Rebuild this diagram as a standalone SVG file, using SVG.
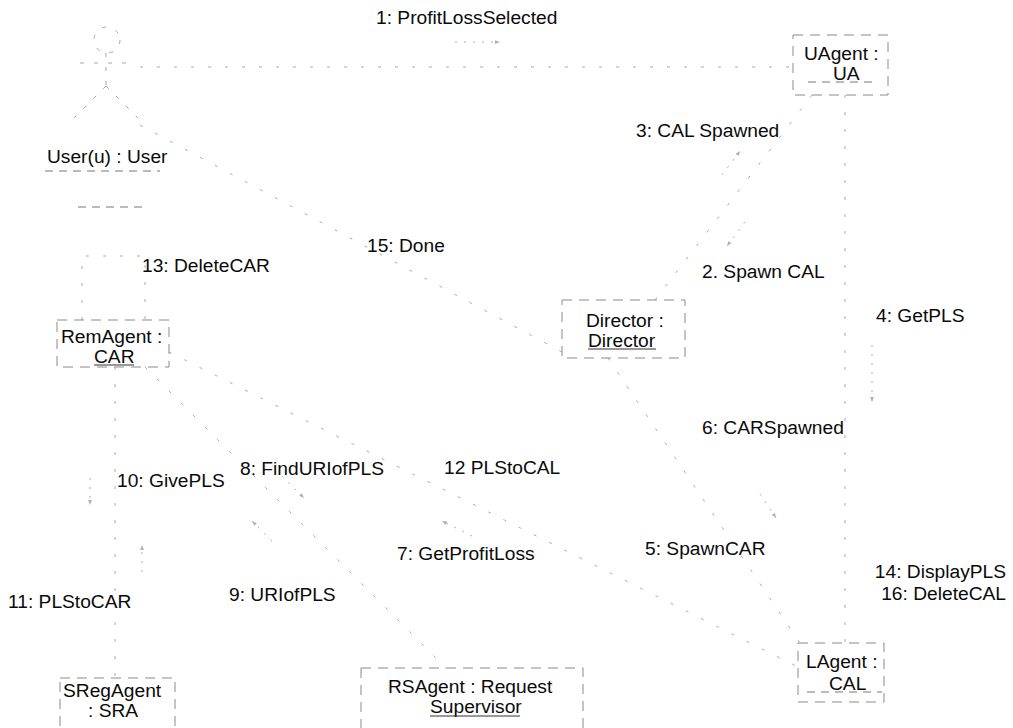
<svg xmlns="http://www.w3.org/2000/svg" width="1013" height="728" viewBox="0 0 1013 728">
  <style>
    text { font-family: "Liberation Sans", Arial, sans-serif; font-size: 19.2px; fill: #0a0a0a; }
    .box { fill: none; stroke: #8a8a8a; stroke-width: 1; stroke-dasharray: 10 7; }
    .link { fill: none; stroke: #ababab; stroke-width: 1; stroke-dasharray: 3 14; }
    .msg { fill: none; stroke: #b0b0b0; stroke-width: 1; stroke-dasharray: 2 7; marker-end: url(#head); }
    .ul { stroke: #333; stroke-width: 1.2; }
    .uld { stroke: #777; stroke-width: 1; stroke-dasharray: 8 6; }
    .actor { fill: none; stroke: #a8a8a8; stroke-width: 1; stroke-dasharray: 4 10; }
  </style>
  <defs>
    <marker id="head" viewBox="0 0 8 6" refX="8" refY="3" markerWidth="5" markerHeight="4" orient="auto">
      <path d="M0,0 L8,3 L0,6 z" fill="#b0b0b0"/>
    </marker>
  </defs>
  <rect width="1013" height="728" fill="#fff"/>

  <!-- links between objects, with their message arrows -->
  <g id="connectors">
    <line class="link" x1="140" y1="67" x2="793" y2="67"/>
    <line class="link" x1="812" y1="95" x2="655" y2="300"/>
    <line class="link" x1="845" y1="95" x2="845" y2="643"/>
    <line class="link" x1="608" y1="358" x2="800" y2="643"/>
    <line class="link" x1="140" y1="125" x2="562" y2="352"/>
    <path class="link" d="M82,320 V256 H145 V320"/>
    <line class="link" x1="115" y1="367" x2="115" y2="678"/>
    <line class="link" x1="145" y1="367" x2="446" y2="668"/>
    <line class="link" x1="169" y1="352" x2="798" y2="667"/>

    <line class="msg" x1="455" y1="42" x2="500" y2="42"/>
    <line class="msg" x1="745" y1="222" x2="727" y2="246"/>
    <line class="msg" x1="722" y1="175" x2="740" y2="151"/>
    <line class="msg" x1="872" y1="345" x2="872" y2="402"/>
    <line class="msg" x1="760" y1="494" x2="776" y2="518"/>
    <line class="msg" x1="472" y1="536" x2="442" y2="521"/>
    <line class="msg" x1="282" y1="476" x2="304" y2="498"/>
    <line class="msg" x1="272" y1="541" x2="252" y2="521"/>
    <line class="msg" x1="90" y1="478" x2="90" y2="505"/>
    <line class="msg" x1="142" y1="572" x2="142" y2="545"/>
  </g>

  <!-- actor -->
  <g id="user">
    <circle class="actor" cx="107" cy="40" r="13"/>
    <line class="actor" x1="106" y1="53" x2="106" y2="86"/>
    <line class="actor" x1="80" y1="63" x2="132" y2="63"/>
    <line class="actor" x1="106" y1="86" x2="74" y2="118"/>
    <line class="actor" x1="106" y1="86" x2="138" y2="118"/>
    <text x="47" y="163">User(u) : User</text>
    <line class="uld" x1="45" y1="171" x2="160" y2="171"/>
    <line class="uld" x1="78" y1="207" x2="143" y2="207"/>
  </g>

  <g id="uagent">
    <rect class="box" x="793" y="35" width="95" height="60"/>
    <text x="804" y="60">UAgent :</text>
    <text x="833" y="80">UA</text>
    <line class="uld" x1="808" y1="82" x2="878" y2="82"/>
  </g>

  <g id="director">
    <rect class="box" x="562" y="300" width="123" height="58"/>
    <text x="586" y="327">Director :</text>
    <text x="588" y="347">Director</text>
    <line class="ul" x1="588" y1="349" x2="656" y2="349"/>
  </g>

  <g id="remagent">
    <rect class="box" x="57" y="320" width="112" height="47"/>
    <text x="61" y="343">RemAgent :</text>
    <text x="94" y="363">CAR</text>
    <line class="ul" x1="94" y1="365" x2="134" y2="365"/>
  </g>

  <g id="sregagent">
    <rect class="box" x="60" y="678" width="115" height="62"/>
    <text x="63" y="697">SRegAgent</text>
    <text x="88" y="717">: SRA</text>
  </g>

  <g id="rsagent">
    <rect class="box" x="361" y="668" width="222" height="72"/>
    <text x="388" y="693">RSAgent : Request</text>
    <text x="430" y="713">Supervisor</text>
    <line class="ul" x1="430" y1="716" x2="520" y2="716"/>
  </g>

  <g id="lagent">
    <rect class="box" x="798" y="643" width="86" height="59"/>
    <text x="806" y="668">LAgent :</text>
    <text x="829" y="690">CAL</text>
    <line class="uld" x1="807" y1="692" x2="882" y2="692"/>
  </g>

  <!-- message labels -->
  <g id="labels">
    <text x="376" y="24">1: ProfitLossSelected</text>
    <text x="636" y="137">3: CAL Spawned</text>
    <text x="367" y="252">15: Done</text>
    <text x="142" y="272">13: DeleteCAR</text>
    <text x="702" y="278">2. Spawn CAL</text>
    <text x="876" y="322">4: GetPLS</text>
    <text x="702" y="434">6: CARSpawned</text>
    <text x="240" y="475">8: FindURIofPLS</text>
    <text x="444" y="474">12 PLStoCAL</text>
    <text x="117" y="487">10: GivePLS</text>
    <text x="645" y="555">5: SpawnCAR</text>
    <text x="397" y="560">7: GetProfitLoss</text>
    <text x="1006" y="578" text-anchor="end">14: DisplayPLS</text>
    <text x="1006" y="600" text-anchor="end">16: DeleteCAL</text>
    <text x="229" y="601">9: URIofPLS</text>
    <text x="8" y="608">11: PLStoCAR</text>
  </g>
</svg>
